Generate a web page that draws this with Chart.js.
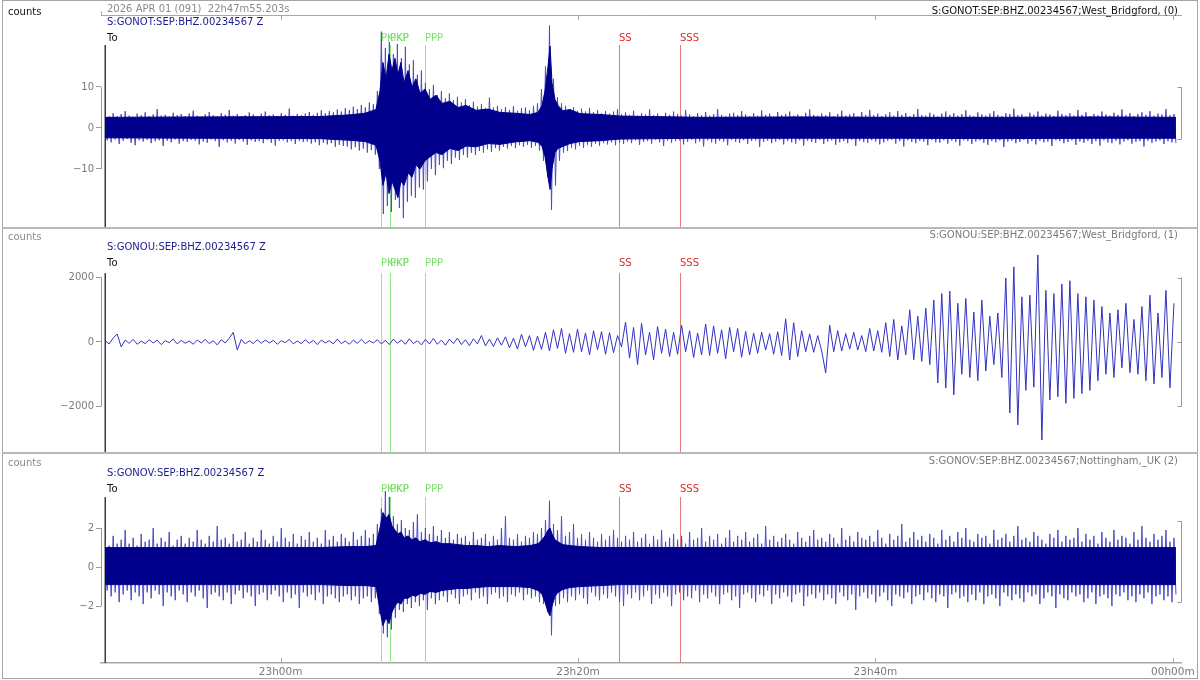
<!DOCTYPE html>
<html>
<head>
<meta charset="utf-8">
<script src="https://cdn.jsdelivr.net/npm/chart.js@4.4.0/dist/chart.umd.min.js"></script>
<style>
  html, body { margin: 0; padding: 0; background: #fff; }
  #wrap { position: relative; width: 1200px; height: 680px; overflow: hidden; }
  canvas { position: absolute; left: 0; }
  .frame { position: absolute; left: 2px; top: 0; width: 1194px; height: 677px; border: 1px solid #a4a4a4; }
  .sep { position: absolute; left: 2px; width: 1196px; height: 2px; background: #b8b8b8; }
</style>
</head>
<body>
<div id="wrap">
  <div class="frame"></div>
  <canvas id="p1" width="1200" height="228" style="top:0px"></canvas>
  <canvas id="p2" width="1200" height="225" style="top:228px"></canvas>
  <canvas id="p3" width="1200" height="227" style="top:453px"></canvas>
  <div class="sep" style="top:227px"></div>
  <div class="sep" style="top:452px"></div>
</div>
<script>
// time in minutes after 22h00m
const X_MIN = 47.92, X_MAX = 120.55;
const T0 = 48.2;      // first sample (22h48m12s)
const DT = 0.2692;    // decimated sample interval, minutes

const TIME_TICKS = [60, 80, 100, 120];
const TIME_LABELS = ["23h00m", "23h20m", "23h40m", "00h00m"];

const PHASE_NAMES = ["PKiKP", "PKP", "PPP", "SS", "SSS"];
const PHASE_TIMES = [66.72, 67.33, 69.68, 82.73, 86.83];
const PHASE_TYPES = ["P", "P", "P", "S", "S"];

// GONOT - per-bin max / min (counts)
const P1_HI = [
  3.2, 2.8, 3.6, 2.9, 3.4, 4.1, 3.0, 2.7, 3.5, 3.1,
  3.8, 2.9, 3.3, 4.6, 3.0, 3.2, 2.8, 3.7, 3.1, 3.4,
  2.9, 3.5, 4.2, 3.0, 2.7, 3.3, 3.9, 3.1, 2.8, 3.6,
  3.2, 4.4, 3.0, 3.4, 2.9, 3.1, 3.8, 3.3, 2.8, 3.5,
  4.0, 3.1, 3.3, 2.9, 3.6, 3.2, 4.7, 3.0, 3.4, 3.1,
  3.5, 3.9, 3.2, 3.7, 4.3, 3.6, 4.1, 3.8, 4.5, 4.0,
  4.8, 4.4, 5.2, 4.6, 5.6, 5.0, 6.2, 5.8, 9.0, 23.5,
  19.5, 21.0, 18.0, 20.5, 17.0, 19.8, 15.5, 16.5, 13.0, 14.0,
  11.0, 9.5, 10.5, 8.0, 9.0, 7.2, 8.4, 6.8, 7.6, 6.2,
  7.0, 5.6, 6.4, 5.2, 5.8, 4.9, 7.4, 5.0, 5.4, 4.6,
  5.1, 4.4, 5.3, 4.2, 4.8, 5.0, 4.3, 5.4, 6.0, 9.5,
  15.0, 25.0, 12.0, 7.5, 6.0, 5.4, 4.6, 5.0, 4.2, 4.7,
  4.0, 4.9, 3.9, 4.4, 3.6, 4.1, 3.5, 4.0, 4.6, 3.4,
  3.8, 3.2, 4.2, 3.0, 3.6, 3.3, 4.5, 3.1, 3.5, 2.9,
  3.7, 3.2, 4.0, 3.4, 3.0, 4.4, 3.3, 2.9, 3.6, 3.1,
  3.9, 3.0, 3.4, 4.6, 3.2, 2.8, 3.5, 3.7, 3.1, 4.1,
  3.3, 2.9, 3.6, 3.0, 4.3, 3.2, 3.5, 2.8, 3.9, 3.1,
  3.4, 4.0, 3.0, 3.3, 2.9, 3.7, 4.5, 3.2, 3.0, 3.5,
  3.1, 3.8, 2.9, 3.4, 4.2, 3.0, 3.3, 3.6, 2.8, 3.9,
  3.2, 4.4, 3.1, 3.5, 2.9, 3.3, 3.8, 3.0, 4.1, 3.2,
  3.6, 2.9, 3.4, 4.6, 3.1, 3.0, 3.7, 3.3, 2.8, 3.5,
  4.0, 3.2, 3.6, 3.0, 3.4, 4.3, 3.1, 2.9, 3.8, 3.3,
  3.0, 3.5, 4.1, 3.2, 2.9, 3.6, 3.4, 4.7, 3.1, 3.3,
  2.8, 3.7, 3.2, 4.0, 3.0, 3.5, 3.3, 2.9, 4.2, 3.4,
  3.1, 3.6, 3.0, 4.4, 3.2, 3.8, 2.9, 3.4, 3.1, 4.0,
  3.3, 3.0, 3.7, 3.2, 4.5, 3.1, 3.6, 2.9, 3.4, 3.8,
  3.2, 4.1, 3.0, 3.5, 3.3, 4.6, 3.1, 3.4
];
const P1_LO = [
  -3.0, -3.5, -2.8, -3.9, -3.1, -2.7, -3.6, -4.2, -3.0, -3.3,
  -2.9, -3.7, -3.2, -3.0, -4.4, -3.1, -3.5, -2.8, -3.8, -3.2,
  -3.4, -2.9, -3.1, -4.0, -3.3, -3.6, -2.8, -3.2, -4.6, -3.0,
  -3.5, -3.1, -3.8, -2.9, -3.3, -4.1, -3.0, -3.4, -3.2, -3.7,
  -2.9, -3.6, -4.3, -3.1, -3.0, -3.5, -3.2, -3.9, -3.1, -3.4,
  -3.3, -3.8, -3.5, -4.2, -3.6, -4.0, -3.7, -4.6, -4.1, -4.4,
  -4.5, -5.2, -4.7, -5.5, -5.0, -6.0, -5.4, -6.5, -10.0, -21.0,
  -19.0, -20.5, -17.5, -19.5, -22.0, -18.0, -16.5, -17.0, -14.5, -15.0,
  -13.0, -10.0, -11.5, -9.0, -9.8, -8.0, -8.8, -7.2, -7.8, -6.6,
  -7.2, -6.0, -6.6, -5.6, -6.0, -5.2, -5.8, -4.9, -5.5, -4.6,
  -5.0, -4.4, -4.9, -4.2, -4.6, -4.1, -4.8, -4.4, -5.5, -8.0,
  -12.0, -20.0, -14.0, -8.0, -6.0, -5.6, -4.8, -5.2, -4.3, -4.8,
  -4.1, -4.6, -3.8, -4.3, -3.7, -4.0, -3.5, -4.2, -3.6, -3.9,
  -3.3, -3.7, -3.0, -4.1, -3.4, -3.2, -3.8, -2.9, -3.5, -4.4,
  -3.1, -3.6, -3.2, -3.0, -4.0, -3.4, -2.9, -3.7, -3.3, -4.5,
  -3.0, -3.5, -3.8, -3.1, -3.3, -4.2, -2.9, -3.4, -3.6, -3.0,
  -3.9, -3.2, -3.0, -4.6, -3.4, -3.1, -3.7, -3.3, -2.9, -4.0,
  -3.2, -3.5, -3.8, -3.0, -4.3, -3.1, -3.4, -3.6, -2.9, -3.9,
  -3.3, -3.0, -4.1, -3.5, -3.2, -3.7, -2.9, -4.4, -3.1, -3.4,
  -3.6, -3.0, -3.3, -4.0, -3.5, -3.1, -2.9, -3.8, -3.2, -4.5,
  -3.0, -3.4, -3.7, -3.1, -3.3, -4.2, -2.9, -3.5, -3.6, -3.0,
  -3.8, -3.1, -3.4, -4.3, -3.0, -3.2, -3.9, -3.3, -3.0, -3.6,
  -4.1, -3.2, -3.5, -3.0, -4.6, -3.3, -3.1, -3.7, -3.4, -2.9,
  -3.8, -3.2, -4.0, -3.1, -3.5, -3.3, -4.4, -3.0, -3.2, -3.7,
  -3.4, -3.0, -4.1, -3.3, -3.6, -3.1, -3.9, -3.2, -4.3, -3.0,
  -3.5, -3.7, -3.1, -4.0, -3.3, -3.0, -3.8, -3.4, -3.2, -4.5,
  -3.1, -3.6, -3.3, -3.0, -3.9, -3.2, -3.5, -3.7
];

// times (min after 22h00m) where the dense dark core of the traces was read
const CORE_T = [
  48.19, 54.58, 62.65, 64.67, 65.67, 66.41, 66.68, 66.88, 67.09, 67.29,
  67.49, 67.69, 67.89, 68.09, 68.30, 68.57, 68.84, 69.10, 69.37, 69.71,
  70.05, 70.45, 70.85, 71.39, 71.93, 72.47, 73.14, 73.95, 74.75, 75.76,
  76.77, 77.31, 77.58, 77.78, 77.98, 78.12, 78.25, 78.45, 78.65, 78.98,
  79.46, 80.13, 81.48, 82.82, 88.20, 94.93, 101.65, 108.38, 115.10, 120.21
];
const P1_CORE_HI = [
  2.6, 2.7, 2.8, 3.2, 3.6, 4.5, 9, 16, 12, 18,
  14, 17, 13, 16, 11, 14, 10, 12, 8.5, 9.5,
  7, 8, 6, 6.5, 5, 5.5, 4.3, 4.6, 3.8, 3.6,
  3.3, 3.8, 5.5, 9, 15, 20, 11, 7, 5.5, 4.2,
  4.5, 3.5, 3.3, 2.9, 2.6, 2.7, 2.6, 2.6, 2.7, 2.6
];
const P1_CORE_LO = [
  -2.4, -2.5, -2.6, -3.0, -3.3, -4.2, -8, -14, -11, -16,
  -13, -15, -17, -13, -14, -11, -12, -9, -10, -8,
  -7, -6, -6.5, -5, -5.5, -4.4, -4.6, -3.8, -4, -3.4,
  -3.1, -3.5, -4.5, -7, -12, -15, -10, -6, -5, -4.5,
  -3.8, -3.3, -3.1, -2.7, -2.5, -2.5, -2.5, -2.6, -2.5, -2.5
];

// GONOU - long period trace (counts)
const P2_Z = [
  40, -60, 120, 250, -150, 60, -40, 80, -70, 30,
  -50, 70, -30, 60, -80, 40, -20, 90, -60, 50,
  -40, 30, -70, 60, -30, 80, -50, 40, -90, 70,
  -30, 120, 300, -250, 80, -60, 40, -50, 70, -40,
  60, -30, 50, -70, 40, -20, 80, -60, 30, -50,
  70, -40, 50, -80, 60, -30, 40, -60, 90, -50,
  30, -70, 60, -40, 80, -50, 40, -30, 70, -60,
  50, -80, 90, -40, 60, -70, 100, -50, 40, -90,
  80, -60, 110, -70, 60, -100, 90, -50, 120, -80,
  70, -110, 100, -60, 200, -120, 90, -140, 130, -100,
  160, -180, 120, -220, 240, -150, 200, -260, 180, -230,
  300, -280, 380, -200, 420, -350, 260, -320, 400, -300,
  280, -400, 350, -240, 320, -380, 290, -330, 200, -150,
  620, -500, 450, -700, 580, -400, 300, -550, 480, -350,
  400, -450, 300, -380, 520, -300, 350, -480, 280, -400,
  560, -420, 500, -350, 380, -520, 450, -300, 420, -470,
  330, -400, 280, -350, 300, -250, 260, -380, 320, -420,
  720, -560, 600, -450, 350, -300, 250, -320, 200, -280,
  -960, 520, -300, 350, -280, 260, -220, 300, -250, 200,
  -300, 420, -280, 350, -320, 600, -450, 700, -560, 500,
  -400, 1000, -550, 800, -600, 1050, -700, 1300, -1270, 1500,
  -1430, 1580, -1640, 1200, -1000, 1350, -1100, 930, -1200, 1300,
  -900, 800, -700, 900, -1100, 1980, -2200, 2330, -2570, 1400,
  -1500, 1450, -1400, 2700, -3040, 1600, -1800, 1500, -1700, 1800,
  -1900, 1900, -1750, 1500, -1600, 1400, -1500, 1300, -1200, 1100,
  -1000, 900, -1100, 1000, -800, 1200, -950, 700, -1000, 1100,
  -1200, 1450, -1300, 900, -1100, 1600, -1420, 1200
];

// GONOV - per-bin max / min (counts)
const P3_HI = [
  1.3, 1.1, 1.6, 1.2, 1.4, 1.9, 1.2, 1.5, 1.1, 1.7,
  1.3, 1.4, 2.0, 1.2, 1.5, 1.3, 1.8, 1.1, 1.4, 1.6,
  1.2, 1.5, 1.3, 1.9, 1.4, 1.2, 1.6, 1.3, 2.1, 1.4,
  1.5, 1.2, 1.7, 1.3, 1.4, 1.8, 1.2, 1.5, 1.3, 1.9,
  1.4, 1.2, 1.6, 1.3, 2.0, 1.5, 1.3, 1.7, 1.2, 1.6,
  1.4, 1.8, 1.3, 1.5, 1.2, 1.9, 1.4, 1.6, 1.3, 1.7,
  1.5, 1.3, 1.8, 1.4, 1.6, 1.9, 1.5, 1.7, 2.2, 3.0,
  3.9, 3.6, 2.6, 2.2, 2.4, 2.0, 1.9, 2.3, 2.7, 1.8,
  2.0, 1.7, 2.1, 1.6, 1.9, 1.5, 1.8, 1.4, 1.7, 1.5,
  1.6, 1.3, 1.8, 1.4, 1.5, 1.7, 1.3, 1.6, 1.4, 2.0,
  2.6, 1.5, 1.4, 1.7, 1.3, 1.6, 1.5, 1.8, 1.7, 2.0,
  2.4, 3.4, 2.2, 1.9, 2.6, 1.6, 1.8, 2.2, 1.5, 1.7,
  1.4, 1.8, 1.5, 1.3, 1.7, 1.4, 1.6, 1.9, 1.5, 1.3,
  1.6, 1.4, 1.8, 1.3, 1.5, 1.7, 1.2, 1.6, 1.4, 1.9,
  1.3, 1.5, 1.7, 1.4, 1.6, 1.2, 1.8, 1.4, 1.5, 2.0,
  1.3, 1.6, 1.4, 1.7, 1.2, 1.5, 1.9, 1.3, 1.6, 1.4,
  1.8, 1.3, 1.5, 1.7, 1.2, 2.1, 1.4, 1.6, 1.3, 1.5,
  1.7, 1.4, 1.2, 1.8, 1.5, 1.3, 1.6, 1.9, 1.4, 1.5,
  1.3, 1.7, 1.5, 1.2, 2.0, 1.4, 1.6, 1.3, 1.8, 1.5,
  1.4, 1.6, 1.3, 1.9, 1.5, 1.2, 1.7, 1.4, 1.6, 2.2,
  1.3, 1.5, 1.8, 1.4, 1.6, 1.3, 1.7, 1.5, 1.2, 1.9,
  1.4, 1.6, 1.3, 1.8, 1.5, 2.0, 1.4, 1.3, 1.7, 1.5,
  1.6, 1.2, 1.9, 1.4, 1.5, 1.7, 1.3, 1.6, 2.1, 1.4,
  1.5, 1.3, 1.8, 1.6, 1.4, 1.2, 1.7, 1.5, 1.9, 1.3,
  1.6, 1.4, 1.5, 2.0, 1.3, 1.7, 1.4, 1.6, 1.2, 1.8,
  1.5, 1.3, 1.9, 1.4, 1.6, 1.5, 1.2, 1.8, 1.4, 2.1,
  1.5, 1.3, 1.7, 1.4, 1.6, 1.9, 1.3, 1.5
];
const P3_LO = [
  -1.2, -1.5, -1.3, -1.8, -1.4, -1.2, -1.7, -1.3, -1.5, -1.9,
  -1.3, -1.6, -1.2, -1.4, -2.0, -1.3, -1.5, -1.7, -1.2, -1.4,
  -1.8, -1.3, -1.5, -1.2, -1.6, -2.1, -1.4, -1.3, -1.5, -1.7,
  -1.3, -1.9, -1.4, -1.2, -1.6, -1.3, -1.5, -2.0, -1.4, -1.3,
  -1.7, -1.4, -1.2, -1.5, -1.8, -1.3, -1.6, -1.4, -2.1, -1.3,
  -1.5, -1.4, -1.7, -1.3, -1.9, -1.5, -1.4, -1.6, -1.8, -1.5,
  -1.4, -1.7, -1.5, -1.9, -1.6, -1.5, -1.8, -1.6, -2.4, -3.4,
  -3.6, -3.2, -2.6, -2.2, -2.3, -1.9, -2.1, -1.8, -2.0, -1.7,
  -2.2, -1.6, -1.9, -1.7, -1.5, -1.8, -1.4, -1.6, -1.9, -1.5,
  -1.4, -1.7, -1.3, -1.6, -1.5, -1.9, -1.4, -1.3, -1.6, -1.5,
  -1.8, -1.4, -1.5, -1.3, -1.7, -1.4, -1.6, -1.5, -1.8, -1.9,
  -2.3, -3.5, -2.0, -1.9, -1.6, -1.8, -1.5, -1.7, -1.4, -1.6,
  -1.9, -1.3, -1.5, -1.7, -1.4, -1.6, -1.3, -1.5, -1.8, -2.0,
  -1.4, -1.6, -1.3, -1.7, -1.5, -1.2, -1.9, -1.4, -1.6, -1.3,
  -1.5, -2.0, -1.4, -1.3, -1.7, -1.5, -1.6, -1.2, -1.8, -1.4,
  -1.6, -1.3, -1.5, -1.9, -1.4, -1.3, -1.7, -1.5, -2.1, -1.4,
  -1.3, -1.6, -1.8, -1.4, -1.5, -1.2, -1.9, -1.4, -1.6, -1.3,
  -1.5, -1.8, -1.4, -1.3, -2.0, -1.5, -1.4, -1.6, -1.3, -1.7,
  -1.4, -1.6, -1.9, -1.3, -1.5, -1.7, -1.4, -2.2, -1.5, -1.3,
  -1.6, -1.4, -1.8, -1.5, -1.3, -1.7, -2.0, -1.4, -1.5, -1.6,
  -1.3, -1.9, -1.5, -1.4, -1.7, -1.3, -1.6, -1.8, -1.4, -1.5,
  -2.1, -1.4, -1.3, -1.6, -1.5, -1.8, -1.4, -1.7, -1.3, -1.9,
  -1.5, -1.4, -1.6, -2.0, -1.3, -1.5, -1.7, -1.4, -1.6, -1.8,
  -1.3, -1.5, -1.4, -1.9, -1.6, -1.3, -1.5, -2.1, -1.4, -1.6,
  -1.7, -1.3, -1.5, -1.4, -1.8, -1.6, -1.3, -1.9, -1.5, -1.4,
  -1.6, -2.0, -1.4, -1.5, -1.3, -1.7, -1.5, -1.8, -1.4, -1.6,
  -1.3, -1.9, -1.5, -1.4, -1.7, -1.5, -1.8, -1.4
];
const P3_CORE_HI = [
  1.0, 1.0, 1.0, 1.05, 1.05, 1.1, 2.0, 2.8, 2.5, 2.7,
  2.1, 1.9, 1.7, 1.8, 1.5, 1.6, 1.4, 1.5, 1.3, 1.4,
  1.25, 1.3, 1.2, 1.2, 1.15, 1.1, 1.1, 1.05, 1.1, 1.05,
  1.1, 1.2, 1.4, 1.6, 1.9, 2.0, 1.7, 1.4, 1.3, 1.15,
  1.1, 1.05, 1.0, 1.0, 1.0, 1.0, 1.0, 1.0, 1.0, 1.0
];
const P3_CORE_LO = [
  -0.9, -0.9, -0.9, -0.95, -0.95, -1.0, -2.2, -3.0, -2.6, -2.9,
  -2.3, -2.0, -1.8, -1.9, -1.6, -1.6, -1.45, -1.5, -1.35, -1.4,
  -1.25, -1.3, -1.2, -1.15, -1.1, -1.1, -1.05, -1.0, -1.0, -1.0,
  -1.05, -1.2, -1.4, -1.8, -2.3, -2.5, -2.0, -1.5, -1.3, -1.15,
  -1.05, -1.0, -0.95, -0.9, -0.9, -0.9, -0.9, -0.9, -0.9, -0.9
];

const P1_TICKS = [-10, 0, 10];
const P2_TICKS = [-2000, 0, 2000];
const P3_TICKS = [-2, 0, 2];

const FONT = '"DejaVu Sans", Verdana, sans-serif';
const CORE = "rgb(0,0,140)";
const SPIKE = "rgb(75,75,200)";

function trace(vals, shift) {
  return vals.map((v, i) => ({ x: T0 + (i + shift) * DT, y: v }));
}

// dark core band on top, max/min zigzag underneath for the spikes
function seismo(hi, lo, coreHi, coreLo) {
  const zig = [];
  hi.forEach((v, i) => {
    zig.push({ x: T0 + i * DT, y: v });
    zig.push({ x: T0 + (i + 0.5) * DT, y: lo[i] });
  });
  const core = (arr) => arr.map((v, k) => ({ x: CORE_T[k], y: v }));
  return [
    { data: core(coreHi), fill: "+1", backgroundColor: CORE, borderColor: CORE, borderWidth: 1, pointRadius: 0, tension: 0 },
    { data: core(coreLo), fill: false, borderColor: CORE, borderWidth: 1, pointRadius: 0, tension: 0 },
    { data: zig, fill: false, borderColor: SPIKE, borderWidth: 1, pointRadius: 0, tension: 0 }
  ];
}

function signed(v) {
  return v < 0 ? "\u2212" + Math.abs(v) : String(v);
}

function hline(ctx, x1, x2, y) {
  ctx.beginPath(); ctx.moveTo(x1, y); ctx.lineTo(x2, y); ctx.stroke();
}
function vline(ctx, x, y1, y2) {
  ctx.beginPath(); ctx.moveTo(x, y1); ctx.lineTo(x, y2); ctx.stroke();
}

function makeDecor(cfg) {
  return {
    id: "decor",
    beforeDatasetsDraw(chart) {
      const { ctx, chartArea: a, scales: { x, y } } = chart;
      ctx.save();
      ctx.lineWidth = 1;
      ctx.strokeStyle = "#a8a8a8";
      if (cfg.topAxis) {
        hline(ctx, a.left, a.right + 1, a.top + 0.5);
        vline(ctx, a.left + 0.5, a.top - 4, a.top);
        TIME_TICKS.forEach((t) => {
          const px = Math.round(x.getPixelForValue(t)) + 0.5;
          vline(ctx, px, a.top, a.top + 5);
        });
      }
      if (cfg.xAxis) {
        TIME_TICKS.forEach((t) => {
          const px = Math.round(x.getPixelForValue(t)) + 0.5;
          vline(ctx, px, a.bottom - 5, a.bottom);
        });
      }
      // left amplitude bracket
      ctx.strokeStyle = "#9a9a9a";
      const yt = cfg.yTicks;
      vline(ctx, a.left + 0.5, y.getPixelForValue(yt[yt.length - 1]), y.getPixelForValue(yt[0]));

      // phase markers
      PHASE_NAMES.forEach((name, k) => {
        const px = Math.round(x.getPixelForValue(PHASE_TIMES[k])) + 0.5;
        ctx.strokeStyle = PHASE_TYPES[k] === "P" ? "#93e88c" : "#e27d7d";
        vline(ctx, px, cfg.lineTop, a.bottom);
      });

      // trace start marker
      ctx.strokeStyle = "#3c3c3c";
      ctx.lineWidth = 1.5;
      const x0 = Math.round(x.getPixelForValue(T0)) + 0.25;
      vline(ctx, x0, cfg.lineTop, a.bottom);
      ctx.restore();
    },
    afterDraw(chart) {
      const { ctx, chartArea: a, scales: { x, y } } = chart;
      ctx.save();
      ctx.font = "10px " + FONT;
      ctx.textBaseline = "middle";
      ctx.textAlign = "left";

      ctx.fillStyle = cfg.countsColor;
      ctx.fillText("counts", 8, cfg.countsY);

      if (cfg.date) {
        ctx.fillStyle = "#8a8a8a";
        ctx.fillText(cfg.date, 107, 9);
      }
      ctx.fillStyle = "#1c1c8e";
      ctx.fillText(cfg.station, 107, cfg.stationY);
      ctx.fillStyle = "#111";
      ctx.fillText("To", 107, cfg.toY);

      PHASE_NAMES.forEach((name, k) => {
        const px = Math.round(x.getPixelForValue(PHASE_TIMES[k]));
        ctx.fillStyle = PHASE_TYPES[k] === "P" ? "#7fe070" : "#dd2b2b";
        ctx.fillText(name, px, cfg.toY);
      });

      ctx.textAlign = "right";
      ctx.fillStyle = cfg.rightColor;
      ctx.fillText(cfg.right, 1178, cfg.rightY);

      // right scale bracket
      ctx.strokeStyle = "#9a9a9a";
      ctx.lineWidth = 1;
      const b = cfg.bracket;
      const bx = a.right + 0.5;
      vline(ctx, bx, y.getPixelForValue(b[0]), y.getPixelForValue(b[b.length - 1]));
      b.forEach((v) => {
        const py = Math.round(y.getPixelForValue(v)) + 0.5;
        hline(ctx, bx - 4, bx, py);
      });
      ctx.restore();
    }
  };
}

function makePanel(id, datasets, cfg) {
  new Chart(document.getElementById(id), {
    type: "line",
    data: { datasets: datasets },
    options: {
      responsive: false,
      animation: false,
      events: [],
      parsing: false,
      normalized: true,
      layout: { padding: { top: cfg.padTop, right: 19, left: 0, bottom: 0 } },
      plugins: { legend: { display: false }, tooltip: { enabled: false } },
      scales: {
        x: {
          type: "linear",
          min: X_MIN,
          max: X_MAX,
          display: cfg.xAxis,
          afterBuildTicks: (s) => { s.ticks = TIME_TICKS.map((v) => ({ value: v })); },
          afterFit: (s) => {
            if (cfg.xAxis) s.height = 17;
            s.paddingLeft = 0; s.paddingRight = 0;
          },
          grid: { display: false, drawTicks: false },
          border: { display: true, color: "#a8a8a8", width: 1.5 },
          ticks: {
            autoSkip: false,
            maxRotation: 0,
            padding: 3,
            color: "#7a7a7a",
            font: { family: FONT, size: 10.5 },
            callback: (v) => TIME_LABELS[TIME_TICKS.indexOf(v)]
          }
        },
        y: {
          type: "linear",
          min: cfg.yMin,
          max: cfg.yMax,
          afterBuildTicks: (s) => { s.ticks = cfg.yTicks.map((v) => ({ value: v })); },
          afterFit: (s) => { s.width = 101; s.paddingTop = 0; s.paddingBottom = 0; },
          grid: { drawOnChartArea: false, tickLength: 5, color: "#9a9a9a" },
          border: { display: false },
          ticks: {
            padding: 2,
            color: "#7a7a7a",
            font: { family: FONT, size: 10 },
            callback: (v) => signed(v)
          }
        }
      }
    },
    plugins: [makeDecor(cfg)]
  });
}

makePanel("p1", seismo(P1_HI, P1_LO, P1_CORE_HI, P1_CORE_LO), {
  padTop: 15, xAxis: false,
  yMin: -24.4, yMax: 27.56, yTicks: P1_TICKS, bracket: [10, -2.7],
  topAxis: true,
  date: "2026 APR 01 (091)  22h47m55.203s",
  station: "S:GONOT:SEP:BHZ.00234567 Z",
  right: "S:GONOT:SEP:BHZ.00234567;West_Bridgford, (0)", rightColor: "#111",
  countsColor: "#111", countsY: 12, rightY: 11, stationY: 22, toY: 38, lineTop: 45
});

makePanel("p2", [{
  data: trace(P2_Z, 0), fill: false, borderColor: "rgb(50,50,190)",
  borderWidth: 1, pointRadius: 0, tension: 0
}], {
  padTop: 0, xAxis: false,
  yMin: -3442, yMax: 3535, yTicks: P2_TICKS, bracket: [2000, 0, -2000],
  topAxis: false,
  station: "S:GONOU:SEP:BHZ.00234567 Z",
  right: "S:GONOU:SEP:BHZ.00234567;West_Bridgford, (1)", rightColor: "#7a7a7a",
  countsColor: "#8a8a8a", countsY: 9, rightY: 7, stationY: 19, toY: 35, lineTop: 45
});

makePanel("p3", seismo(P3_HI, P3_LO, P3_CORE_HI, P3_CORE_LO), {
  padTop: 0, xAxis: true,
  yMin: -4.92, yMax: 5.85, yTicks: P3_TICKS, bracket: [2.35, -1.8],
  topAxis: false,
  station: "S:GONOV:SEP:BHZ.00234567 Z",
  right: "S:GONOV:SEP:BHZ.00234567;Nottingham,_UK (2)", rightColor: "#7a7a7a",
  countsColor: "#8a8a8a", countsY: 10, rightY: 8, stationY: 20, toY: 36, lineTop: 44
});
</script>
</body>
</html>
